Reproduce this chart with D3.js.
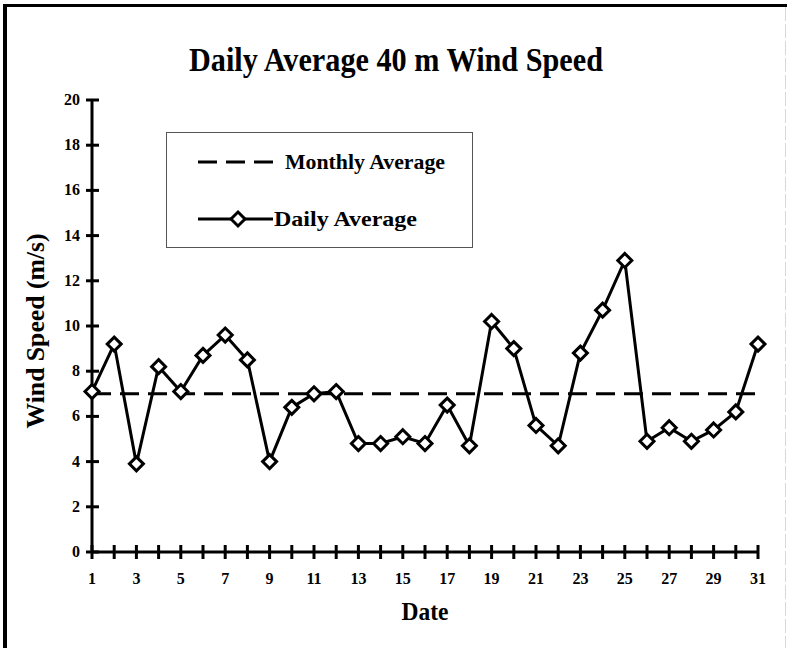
<!DOCTYPE html>
<html>
<head>
<meta charset="utf-8">
<script src="https://cdn.jsdelivr.net/npm/d3@7"></script>
<style>
  html, body { margin: 0; padding: 0; background: #fff; }
  svg { display: block; }
  text { font-family: 'Liberation Serif', 'Times New Roman', serif; font-weight: bold; fill: #000; }
</style>
</head>
<body>
<div id="chart"></div>
<script>
// values
const days = d3.range(1, 32)
const dailyAverage = [
  7.1, 9.2, 3.9, 8.2, 7.1, 8.7, 9.6, 8.5, 4.0, 6.4,
  7.0, 7.1, 4.8, 4.8, 5.1, 4.8, 6.5, 4.7, 10.2, 9.0,
  5.6, 4.7, 8.8, 10.7, 12.9, 4.9, 5.5, 4.9, 5.4, 6.2, 9.2,
]
const monthlyAverage = 7.0
const yTicks = d3.range(0, 21, 2)
const xLabelDays = d3.range(1, 32, 2)
const legendLabels = ['Monthly Average', 'Daily Average']

const width = 787
const height = 648

const svg = d3
  .select('#chart')
  .append('svg')
  .attr('width', width)
  .attr('height', height)

// outer frame (top and left heavy, right faint)
svg.append('line')
  .attr('x1', 3).attr('x2', width).attr('y1', 5.5).attr('y2', 5.5)
  .attr('stroke', '#000').attr('stroke-width', 3)
svg.append('line')
  .attr('x1', 5).attr('x2', 5).attr('y1', 4).attr('y2', height)
  .attr('stroke', '#000').attr('stroke-width', 4)
svg.append('line')
  .attr('x1', 785.5).attr('x2', 785.5).attr('y1', 7).attr('y2', height)
  .attr('stroke', '#d8d8d8').attr('stroke-width', 1)
  .attr('stroke-dasharray', '14 3')

const xScale = d3.scaleLinear().domain([1, 31]).range([92, 758])
const yScale = d3.scaleLinear().domain([0, 20]).range([552, 100])

// title
svg.append('text')
  .attr('x', 396).attr('y', 71)
  .attr('text-anchor', 'middle')
  .attr('font-size', 33)
  .attr('textLength', 414)
  .attr('lengthAdjust', 'spacingAndGlyphs')
  .text('Daily Average 40 m Wind Speed')

// y axis
const yAxis = svg.append('g')
yAxis.append('line')
  .attr('x1', xScale(1)).attr('x2', xScale(1))
  .attr('y1', yScale(20) - 1).attr('y2', yScale(0))
  .attr('stroke', '#000').attr('stroke-width', 3)
yAxis.selectAll('line.tick')
  .data(yTicks)
  .join('line')
  .attr('class', 'tick')
  .attr('x1', xScale(1) - 6).attr('x2', xScale(1) + 7)
  .attr('y1', d => yScale(d)).attr('y2', d => yScale(d))
  .attr('stroke', '#000').attr('stroke-width', 3)
yAxis.selectAll('text')
  .data(yTicks)
  .join('text')
  .attr('x', 80)
  .attr('y', d => yScale(d) + 5)
  .attr('text-anchor', 'end')
  .attr('font-size', 16)
  .text(d => d)

svg.append('text')
  .attr('transform', `translate(44, 331) rotate(-90)`)
  .attr('text-anchor', 'middle')
  .attr('font-size', 25)
  .attr('textLength', 195)
  .attr('lengthAdjust', 'spacingAndGlyphs')
  .text('Wind Speed (m/s)')

// x axis
const xAxis = svg.append('g')
xAxis.append('line')
  .attr('x1', xScale(1)).attr('x2', xScale(31))
  .attr('y1', yScale(0)).attr('y2', yScale(0))
  .attr('stroke', '#000').attr('stroke-width', 3)
xAxis.selectAll('line.tick')
  .data(days)
  .join('line')
  .attr('class', 'tick')
  .attr('x1', d => xScale(d)).attr('x2', d => xScale(d))
  .attr('y1', yScale(0) - 7).attr('y2', yScale(0) + 7)
  .attr('stroke', '#000').attr('stroke-width', 3)
xAxis.selectAll('text')
  .data(xLabelDays)
  .join('text')
  .attr('x', d => xScale(d))
  .attr('y', 584)
  .attr('text-anchor', 'middle')
  .attr('font-size', 16)
  .text(d => d)

svg.append('text')
  .attr('x', 425).attr('y', 620)
  .attr('text-anchor', 'middle')
  .attr('font-size', 25)
  .attr('textLength', 47)
  .attr('lengthAdjust', 'spacingAndGlyphs')
  .text('Date')

// monthly average dashed line
svg.append('line')
  .attr('x1', xScale(1)).attr('x2', xScale(31))
  .attr('y1', yScale(monthlyAverage)).attr('y2', yScale(monthlyAverage))
  .attr('stroke', '#000').attr('stroke-width', 3)
  .attr('stroke-dasharray', '19 9')

// daily series
const diamond = 'M0,-7L7,0L0,7L-7,0Z'
const points = days.map((d, i) => ({ day: d, value: dailyAverage[i] }))

svg.append('path')
  .datum(points)
  .attr('fill', 'none')
  .attr('stroke', '#000')
  .attr('stroke-width', 3)
  .attr('d', d3.line().x(d => xScale(d.day)).y(d => yScale(d.value)))

svg.selectAll('path.marker')
  .data(points)
  .join('path')
  .attr('class', 'marker')
  .attr('transform', d => `translate(${xScale(d.day)}, ${yScale(d.value)})`)
  .attr('d', diamond)
  .attr('fill', '#fff')
  .attr('stroke', '#000')
  .attr('stroke-width', 3)

// legend
const legend = svg.append('g')
legend.append('rect')
  .attr('x', 166.5).attr('y', 132.5)
  .attr('width', 306).attr('height', 115)
  .attr('fill', 'none')
  .attr('stroke', '#555')
  .attr('stroke-width', 1)
legend.append('line')
  .attr('x1', 198).attr('x2', 273).attr('y1', 162).attr('y2', 162)
  .attr('stroke', '#000').attr('stroke-width', 3)
  .attr('stroke-dasharray', '19 9')
legend.append('line')
  .attr('x1', 198).attr('x2', 273).attr('y1', 219).attr('y2', 219)
  .attr('stroke', '#000').attr('stroke-width', 3)
legend.append('path')
  .attr('transform', 'translate(238, 219)')
  .attr('d', diamond)
  .attr('fill', '#fff').attr('stroke', '#000').attr('stroke-width', 3)
legend.selectAll('text')
  .data(legendLabels)
  .join('text')
  .attr('x', (d, i) => (i === 0 ? 285 : 274))
  .attr('y', (d, i) => (i === 0 ? 169 : 226))
  .attr('font-size', 22)
  .attr('textLength', (d, i) => (i === 0 ? 160 : 143))
  .attr('lengthAdjust', 'spacingAndGlyphs')
  .text(d => d)
</script>
</body>
</html>
